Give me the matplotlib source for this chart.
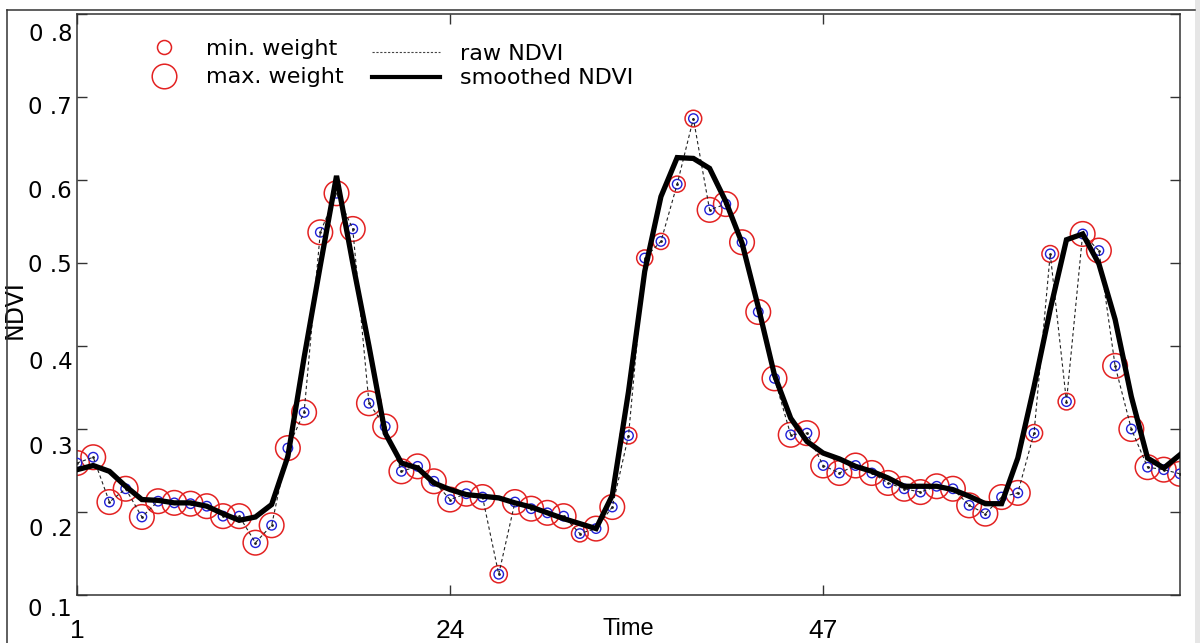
import matplotlib
matplotlib.use("Agg")
import matplotlib.pyplot as plt
from matplotlib.lines import Line2D
from matplotlib.patches import Rectangle
from matplotlib.transforms import ScaledTranslation

# ---------------- data ----------------
time = list(range(1, 70))

raw_ndvi = [0.259, 0.266, 0.212, 0.228, 0.194, 0.213, 0.211, 0.210, 0.207, 0.195,
            0.195, 0.163, 0.184, 0.277, 0.320, 0.537, 0.584, 0.541, 0.331, 0.303,
            0.249, 0.255, 0.237, 0.215, 0.222, 0.218, 0.125, 0.212, 0.204, 0.199,
            0.195, 0.174, 0.180, 0.206, 0.292, 0.506, 0.526, 0.595, 0.674, 0.564,
            0.571, 0.525, 0.441, 0.361, 0.293, 0.295, 0.256, 0.247, 0.256, 0.247,
            0.235, 0.228, 0.224, 0.231, 0.228, 0.208, 0.198, 0.218, 0.223, 0.295,
            0.511, 0.333, 0.535, 0.515, 0.376, 0.300, 0.254, 0.251, 0.246]

smoothed_ndvi = [0.251, 0.256, 0.249, 0.231, 0.215, 0.214, 0.211, 0.211, 0.207, 0.198,
                 0.190, 0.194, 0.209, 0.267, 0.386, 0.497, 0.605, 0.500, 0.400, 0.295,
                 0.259, 0.253, 0.235, 0.227, 0.221, 0.219, 0.217, 0.211, 0.206, 0.199,
                 0.192, 0.186, 0.180, 0.220, 0.345, 0.490, 0.580, 0.627, 0.626, 0.614,
                 0.574, 0.524, 0.447, 0.365, 0.313, 0.285, 0.271, 0.264, 0.255, 0.249,
                 0.241, 0.231, 0.231, 0.231, 0.227, 0.219, 0.210, 0.210, 0.265, 0.351,
                 0.444, 0.528, 0.535, 0.499, 0.432, 0.339, 0.265, 0.253, 0.269]

weights = [1.0, 1.0, 1.0, 1.0, 1.0, 1.0, 1.0, 1.0, 1.0, 1.0,
           1.0, 1.0, 1.0, 1.0, 1.0, 1.0, 1.0, 1.0, 1.0, 1.0,
           1.0, 1.0, 1.0, 1.0, 1.0, 1.0, 0.3, 1.0, 1.0, 1.0,
           1.0, 0.25, 1.0, 1.0, 0.25, 0.2, 0.2, 0.2, 0.25, 1.0,
           1.0, 1.0, 1.0, 1.0, 1.0, 1.0, 1.0, 1.0, 1.0, 1.0,
           1.0, 1.0, 1.0, 1.0, 1.0, 1.0, 1.0, 1.0, 1.0, 0.3,
           0.25, 0.25, 1.0, 1.0, 1.0, 1.0, 1.0, 1.0, 1.0]

xticks = [1, 24, 47]
xtick_labels = ["1", "24", "47"]
yticks = [0.1, 0.2, 0.3, 0.4, 0.5, 0.6, 0.7, 0.8]
ytick_labels = ["0 .1", "0 .2", "0 .3", "0 .4", "0 .5", "0 .6", "0 .7", "0 .8"]
# ---------------------------------------

DPI = 100
W, H = 1200, 643
fig = plt.figure(figsize=(W / DPI, H / DPI), dpi=DPI)
fig.patch.set_facecolor("white")

ax = fig.add_axes([77 / W, 48 / H, 1103 / W, 581 / H])

R_MIN, R_MAX = 7.0, 12.3          # circle radius in px
def diam_pt(w):
    r = R_MIN + w * (R_MAX - R_MIN)
    return 2 * r * 72 / DPI

sizes = [diam_pt(w) ** 2 for w in weights]
ax.scatter(time, raw_ndvi, s=sizes, facecolors="none", edgecolors="#e32222",
           linewidths=1.1, zorder=2)
ax.scatter(time, raw_ndvi, s=(9.5 * 72 / DPI) ** 2, facecolors="none",
           edgecolors="#2020d8", linewidths=1.0, zorder=3)
ax.plot(time, raw_ndvi, color="#222222", lw=0.8, ls=(0, (3, 2.5)),
        marker=".", ms=2, zorder=4)
ax.plot(time, smoothed_ndvi, color="black", lw=3.8, solid_joinstyle="miter",
        zorder=5)

ax.set_xlim(1, 69)
ax.set_ylim(0.1, 0.8)
ax.set_xticks(xticks)
ax.set_xticklabels(xtick_labels, fontfamily="Liberation Sans", fontsize=19)
ax.set_yticks(yticks)
ax.set_yticklabels(ytick_labels, fontfamily="DejaVu Sans", fontsize=16.5)
ax.tick_params(axis="both", direction="in", length=7.5, width=1.0,
               color="#333333", top=True, right=True)
ax.tick_params(axis="y", pad=3.5)
ax.tick_params(axis="x", pad=17)

# quirky vertical placement of the y tick labels (px downward)
label_shift_px = [12, 15, 16, 14, 0, 9, 8, 18]
for lab, dpx in zip(ax.get_yticklabels(), label_shift_px):
    lab.set_transform(lab.get_transform() +
                      ScaledTranslation(0, -dpx / DPI, fig.dpi_scale_trans))

for sp in ax.spines.values():
    sp.set_color("#333333")
    sp.set_linewidth(1.1)

ax.set_xlabel("Time", fontfamily="Liberation Sans", fontsize=17, va="top")
ax.xaxis.set_label_coords(0.4996, (595 - 618) / 581)
ax.set_ylabel("NDVI", fontfamily="DejaVu Sans", fontsize=17, va="center")
ax.yaxis.set_label_coords((15 - 77) / 1103, (595 - 310) / 581)

# legends
h_min = Line2D([], [], marker="o", ls="none", mfc="none", mec="#e32222",
               mew=1.1, ms=diam_pt(0.0))
h_max = Line2D([], [], marker="o", ls="none", mfc="none", mec="#e32222",
               mew=1.1, ms=diam_pt(1.0))
leg1 = ax.legend([h_min, h_max], ["min. weight", "max. weight"],
                 loc="upper left", bbox_to_anchor=(147 / W, 1 - 39 / H),
                 bbox_transform=fig.transFigure, frameon=False, borderpad=0,
                 borderaxespad=0, handlelength=1.5, handletextpad=1.15,
                 labelspacing=0.38, prop={"family": "DejaVu Sans", "size": 16})
ax.add_artist(leg1)

h_raw = Line2D([], [], color="#444444", lw=0.8, ls=(0, (2, 1.5)))
h_smo = Line2D([], [], color="black", lw=3.0)
leg2 = ax.legend([h_raw, h_smo], ["raw NDVI", "smoothed NDVI"],
                 loc="upper left", bbox_to_anchor=(372 / W, 1 - 44 / H),
                 bbox_transform=fig.transFigure, frameon=False, borderpad=0,
                 borderaxespad=0, handlelength=3.06, handletextpad=0.9,
                 labelspacing=0.2, prop={"family": "DejaVu Sans", "size": 16})

# outer frame of the figure (left and top edges) and grey strip at right
fig.add_artist(Line2D([7 / W, 7 / W], [0, 1 - 10 / H], transform=fig.transFigure,
                      color="#333333", lw=1.1))
fig.add_artist(Line2D([7 / W, 1195 / W], [1 - 10 / H, 1 - 10 / H],
                      transform=fig.transFigure, color="#333333", lw=1.1))
fig.add_artist(Rectangle((1195 / W, 0), 5 / W, 1, transform=fig.transFigure,
                         facecolor="#e6e6e6", edgecolor="none"))

fig.savefig("out.png", dpi=DPI)
